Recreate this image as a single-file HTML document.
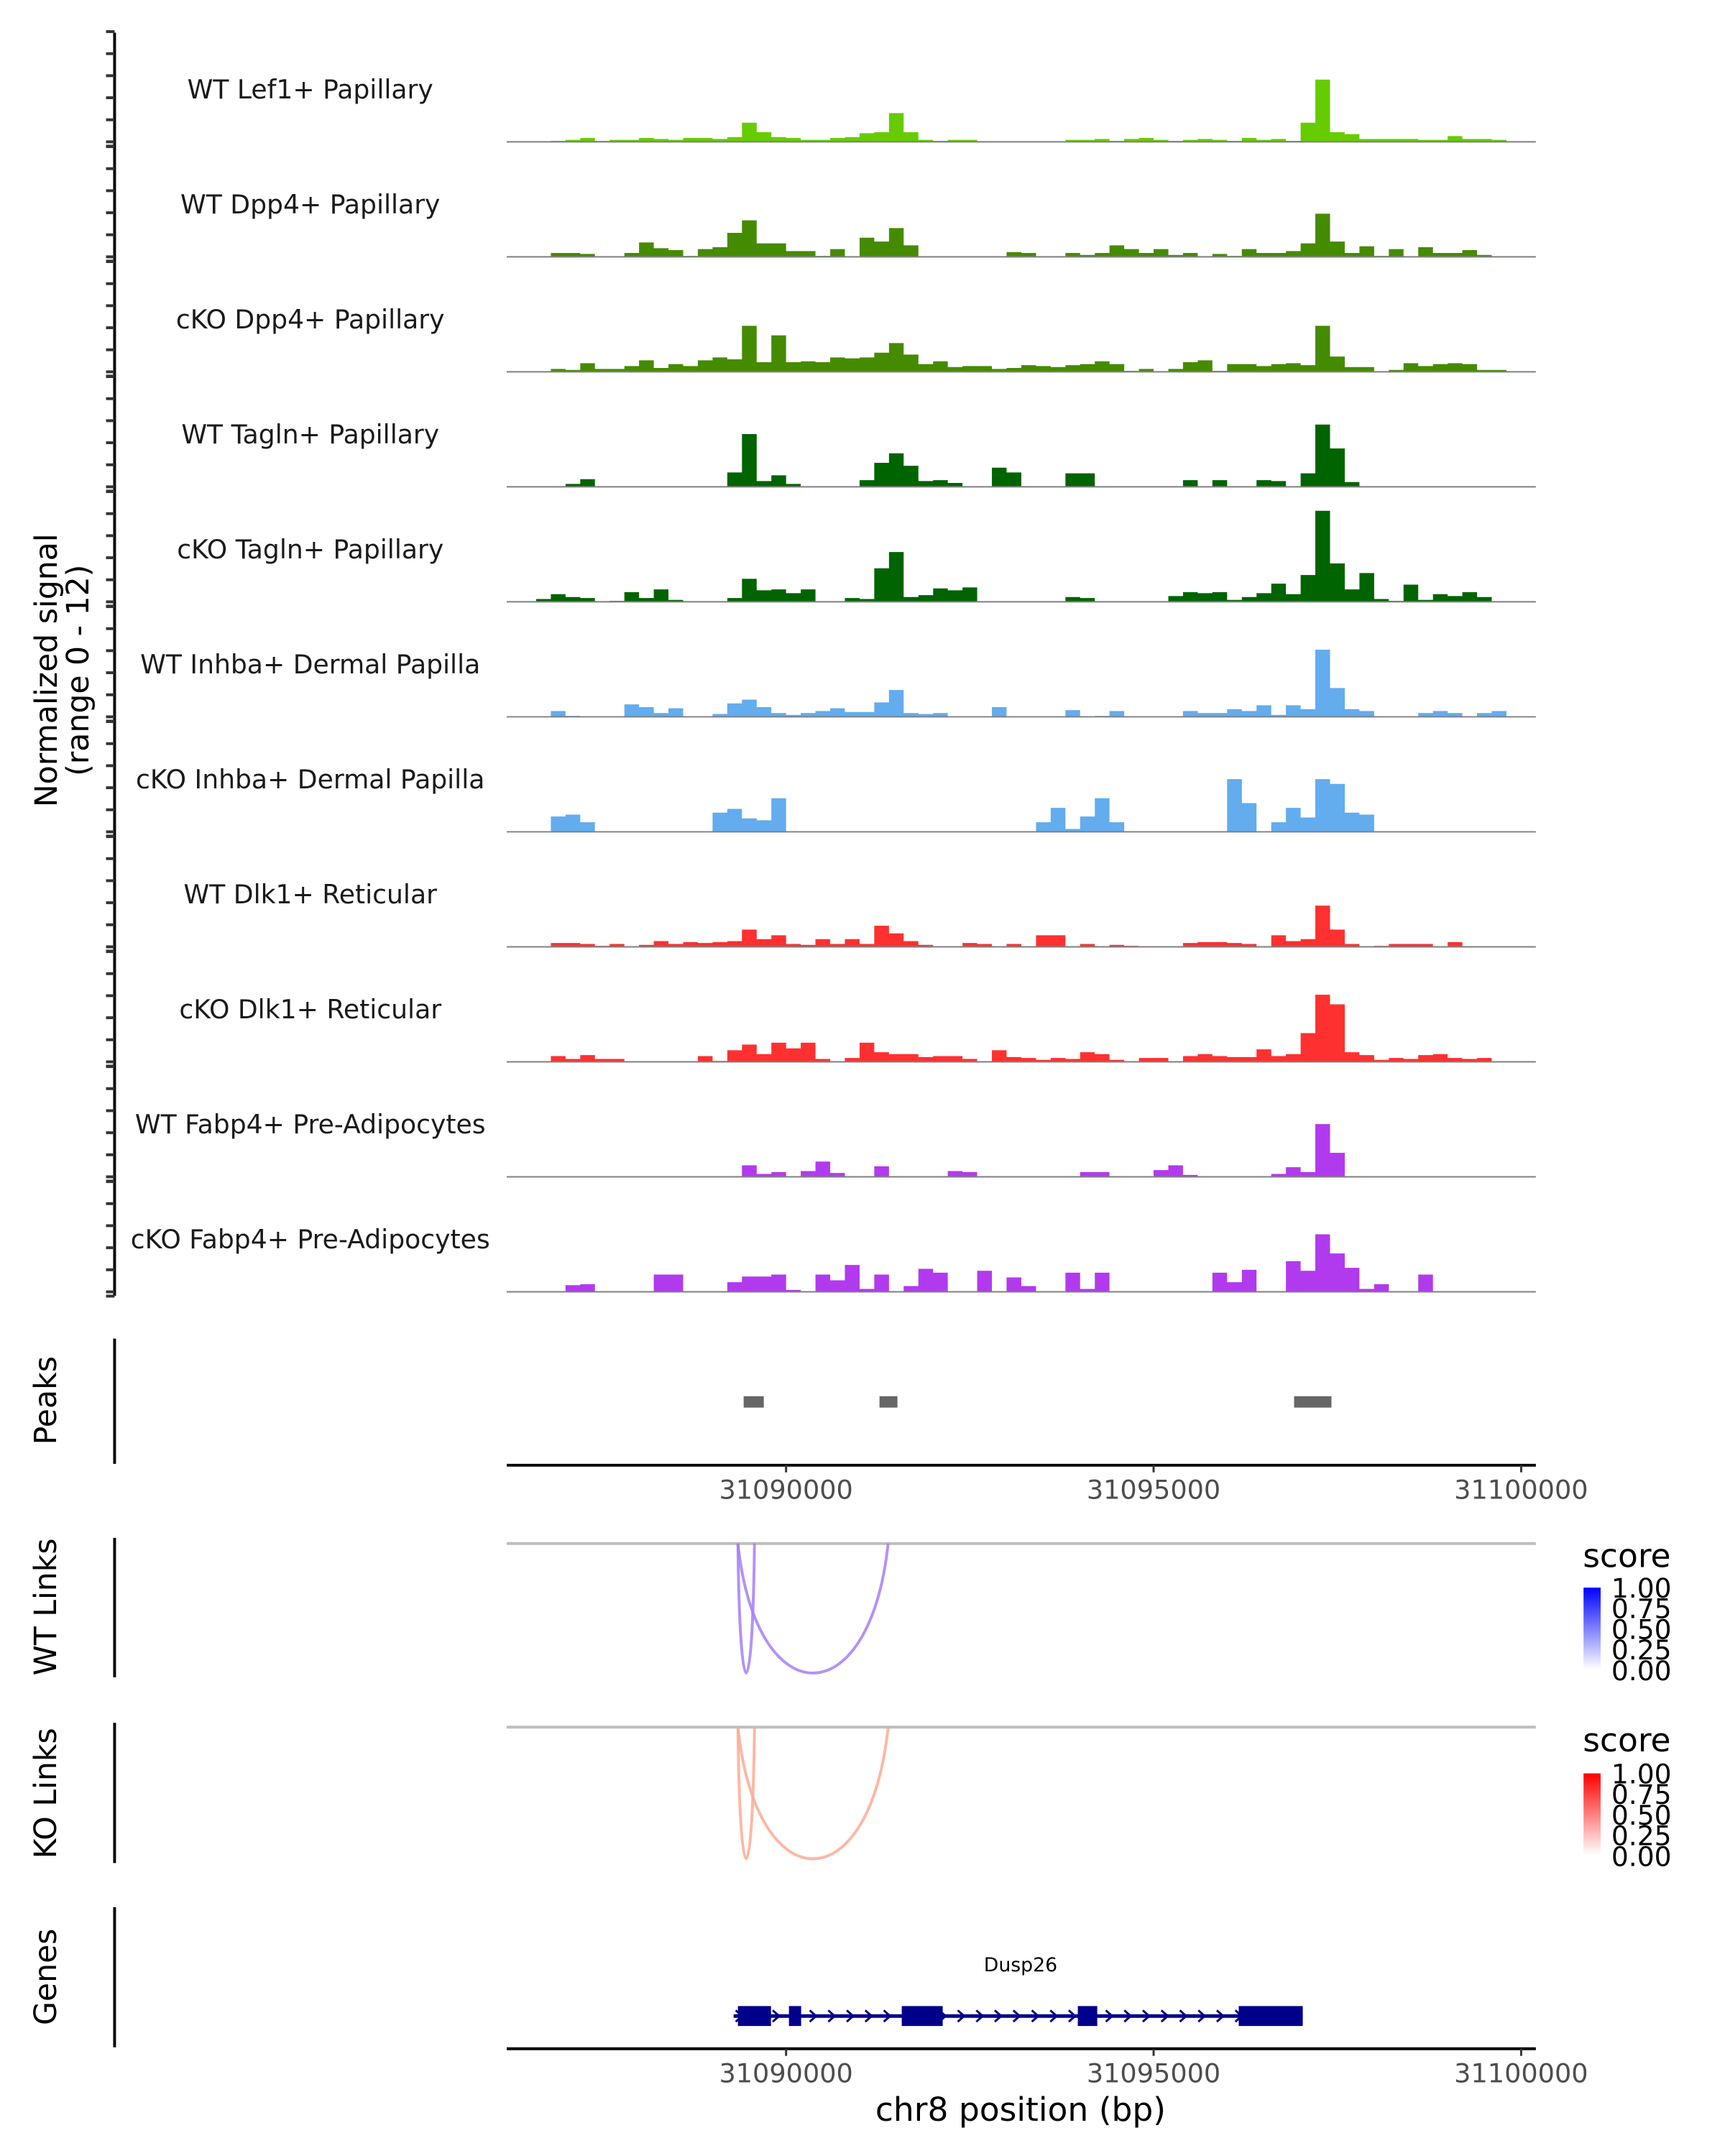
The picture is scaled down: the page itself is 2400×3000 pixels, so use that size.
<!DOCTYPE html>
<html><head><meta charset="utf-8">
<style>
html,body{margin:0;padding:0;background:#fff;}
svg{display:block;font-family:"DejaVu Sans","Liberation Sans",sans-serif;}
</style></head>
<body>
<svg id="chart" width="2400" height="3000" viewBox="0 0 2400 3000" xmlns="http://www.w3.org/2000/svg">
<g transform="scale(0.9902)">
<g id="tracks"></g>
<g id="frame"></g>
</g>
</svg>
<script>
// ---- data ----
const trackNames = ["WT Lef1+ Papillary","WT Dpp4+ Papillary","cKO Dpp4+ Papillary","WT Tagln+ Papillary","cKO Tagln+ Papillary","WT Inhba+ Dermal Papilla","cKO Inhba+ Dermal Papilla","WT Dlk1+ Reticular","cKO Dlk1+ Reticular","WT Fabp4+ Pre-Adipocytes","cKO Fabp4+ Pre-Adipocytes"];
const trackColors = ["#66cc00","#458b00","#458b00","#006400","#006400","#63acee","#63acee","#ff3030","#ff3030","#b23aee","#b23aee"];
const binStart = 31086200;
const binSize = 200;
const lef1WT = [0,0,0,0.1,0.2,0.4,0.1,0.2,0.2,0.4,0.3,0.2,0.4,0.4,0.3,0.5,2.0,1.0,0.5,0.4,0.2,0.2,0.4,0.5,0.9,1.0,3.0,1.0,0.2,0.1,0.2,0.2,0,0,0,0,0,0,0.2,0.2,0.3,0.1,0.3,0.4,0.2,0.1,0.2,0.3,0.2,0.1,0.4,0.2,0.3,0.1,2.0,6.5,1.0,0.8,0.3,0.3,0.3,0.3,0.2,0.2,0.6,0.3,0.3,0.2,0,0];
const dpp4WT = [0,0,0,0.4,0.4,0.3,0,0,0.4,1.5,0.9,0.7,0.1,0.8,1.0,2.5,3.8,1.4,1.4,0.6,0.6,0.1,0.8,0,2.0,1.6,3.0,1.2,0,0,0,0,0,0,0.5,0.4,0,0,0.4,0.2,0.4,1.2,0.8,0.4,0.8,0.2,0.4,0,0.3,0.1,0.8,0.4,0.4,0.6,1.4,4.5,1.6,0.4,1.1,0.1,0.8,0,1.0,0.4,0.4,0.7,0.2,0,0,0];
const dpp4KO = [0,0,0,0.3,0.2,0.9,0.3,0.3,0.6,1.2,0.4,0.8,0.6,1.2,1.5,1.3,4.8,1.0,3.8,1.0,1.1,1.0,1.5,1.4,1.5,2.0,3.0,1.8,0.8,1.1,0.5,0.6,0.6,0.3,0.4,0.7,0.6,0.5,0.7,0.8,1.1,0.8,0.1,0.3,0,0.3,1.0,1.2,0.1,0.8,0.8,0.6,0.8,0.9,0.7,4.8,1.6,0.5,0.5,0,0.2,0.9,0.6,0.8,0.9,0.8,0.2,0.2,0,0];
const taglnWT = [0,0,0,0,0.3,0.8,0,0,0,0,0,0,0,0,0,1.5,5.5,0.6,1.2,0.3,0,0,0,0,0.7,2.5,3.5,2.2,0.6,0.7,0.4,0,0,2.0,1.5,0,0,0,1.4,1.4,0,0,0,0,0,0,0.7,0,0.7,0,0,0.7,0.6,0,1.4,6.5,4.0,0.5,0,0,0,0,0,0,0,0,0,0,0,0];
const taglnKO = [0,0,0.3,0.8,0.5,0.4,0,0.1,1.0,0.4,1.3,0.2,0,0,0,0.4,2.4,1.2,1.3,0.9,1.3,0,0,0.4,0.3,3.5,5.2,0.5,0.7,1.4,1.2,1.5,0,0,0,0,0,0,0.5,0.4,0,0,0,0,0,0.6,1.0,0.9,1.0,0.2,0.5,0.9,1.9,0.8,2.8,9.5,4.0,1.3,3.0,0.3,0.1,1.8,0.2,0.8,0.6,1.0,0.5,0,0,0];
const inhbaWT = [0,0,0,0.6,0.1,0,0,0,1.3,1.0,0.4,0.9,0,0,0.3,1.4,1.8,1.0,0.4,0.2,0.4,0.6,0.9,0.5,0.5,1.5,2.8,0.4,0.3,0.4,0,0,0,1.0,0,0,0,0,0.7,0,0.1,0.6,0,0,0,0,0.6,0.4,0.4,0.8,0.6,1.2,0.2,1.2,0.8,7.0,3.0,0.8,0.6,0,0,0,0.4,0.6,0.4,0,0.4,0.6,0,0];
const inhbaKO = [0,0,0,1.6,1.8,1.0,0,0,0,0,0,0,0,0,2.0,2.4,1.4,1.2,3.5,0,0,0,0,0,0,0,0,0,0,0,0,0,0,0,0,0,1.0,2.5,0.3,1.6,3.5,1.0,0,0,0,0,0,0,0,5.5,3.0,0,1.0,2.5,1.5,5.5,5.0,2.0,1.8,0,0,0,0,0,0,0,0,0,0,0];
const dlk1WT = [0,0,0,0.4,0.4,0.3,0.1,0.3,0,0.2,0.6,0.3,0.5,0.4,0.5,0.6,1.8,0.8,1.2,0.3,0.2,0.8,0.3,0.8,0.3,2.2,1.4,0.6,0.2,0,0,0.4,0.3,0,0.3,0,1.2,1.2,0,0.3,0,0.2,0.1,0,0,0,0.4,0.5,0.5,0.4,0.3,0,1.2,0.6,0.8,4.3,1.8,0.3,0,0.1,0.3,0.3,0.3,0,0.5,0,0,0,0,0];
const dlk1KO = [0,0,0,0.6,0.3,0.7,0.3,0.3,0,0,0,0,0,0.6,0.1,1.2,1.8,0.8,2.0,1.4,2.0,0.3,0,0.4,2.0,1.0,0.8,0.8,0.5,0.6,0.6,0.3,0,1.2,0.5,0.4,0.2,0.4,0.3,1.0,0.8,0.2,0,0.4,0.4,0,0.6,0.8,0.6,0.5,0.5,1.3,0.6,0.8,3.0,7.0,6.0,1.0,0.7,0.2,0.4,0.3,0.7,0.8,0.4,0.3,0.4,0,0,0];
const fabp4WT = [0,0,0,0,0,0,0,0,0,0,0,0,0,0,0,0,1.2,0.3,0.5,0,0.6,1.6,0.4,0,0,1.1,0,0,0,0,0.6,0.5,0,0,0,0,0,0,0,0.5,0.5,0,0,0,0.7,1.2,0.2,0,0,0,0,0,0.3,1.0,0.5,5.5,2.5,0,0,0,0,0,0,0,0,0,0,0,0,0];
const fabp4KO = [0,0,0,0,0.7,0.8,0,0,0,0,1.8,1.8,0,0,0,1.0,1.6,1.6,1.8,0.2,0,1.8,1.2,2.8,0.3,1.8,0,0.6,2.4,2.0,0,0,2.2,0,1.5,0.6,0,0,2.0,0.3,2.0,0,0,0,0,0,0,0,2.0,1.0,2.3,0,0,3.2,2.2,6.0,4.0,2.5,0.3,0.8,0,0,1.8,0,0,0,0,0,0,0];
const trackValues = [lef1WT,dpp4WT,dpp4KO,taglnWT,taglnKO,inhbaWT,inhbaKO,dlk1WT,dlk1KO,fabp4WT,fabp4KO];
const peakStarts = [31089423, 31091271, 31096911];
const peakEnds = [31089697, 31091515, 31097419];
const linkStarts = [31089345, 31089345];
const linkEnds = [31089570, 31091388];
const wtLinkScores = [0.35, 0.35];
const koLinkScores = [0.35, 0.35];
const exonStarts = [31089345, 31090039, 31091574, 31093969, 31096158];
const exonEnds = [31089795, 31090205, 31092131, 31094233, 31097029];
const geneStart = 31089286;
const geneEnd = 31097029;
const xTicks = [31090000, 31095000, 31100000];
const yTickValues = [-0.45, 0, 2.3, 4.6, 6.9, 9.2, 11.5];
const legendTicks = ["1.00","0.75","0.50","0.25","0.00"];

// ---- scales ----
const X0 = 712, X1 = 2158, BP0 = 31086200, BP1 = 31100200;
function xs(bp){ return X0 + (bp - BP0) / (BP1 - BP0) * (X1 - X0); }
const trackH = 161.6, base0 = 199.3, yMax = 12;
function ys(k, v){ return base0 + k*trackH - v / yMax * trackH; }

const NS = "http://www.w3.org/2000/svg";
function mk(tag, attrs, parent){
  const el = document.createElementNS(NS, tag);
  for (const k in attrs) el.setAttribute(k, attrs[k]);
  parent.appendChild(el);
  return el;
}
const gT = document.getElementById('tracks');
const gF = document.getElementById('frame');

// coverage tracks
trackValues.forEach((vals, k) => {
  const base = base0 + k*trackH;
  let d = "M" + xs(binStart) + "," + base;
  vals.forEach((v, i) => {
    const xa = xs(binStart + i*binSize), xb = xs(binStart + (i+1)*binSize);
    const y = ys(k, v);
    d += " L" + xa.toFixed(1) + "," + y.toFixed(1) + " L" + xb.toFixed(1) + "," + y.toFixed(1);
  });
  d += " L" + xs(binStart + vals.length*binSize) + "," + base + " Z";
  const area = mk('path', {d: d, fill: trackColors[k]}, gT);
  
  
  const bl = mk('line', {x1: X0, x2: X1, y1: base, y2: base, stroke: '#7f7f7f', 'stroke-width': 2}, gT);
  
  
  const lab = mk('text', {x: 436, y: base - 61, 'text-anchor': 'middle', 'font-size': 36.5, fill: '#1a1a1a'}, gT);
  lab.textContent = trackNames[k];
  
  
});

// left axes
function vline(y1, y2, name){
  const l = mk('line', {x1: 161, x2: 161, y1: y1, y2: y2, stroke: '#000', 'stroke-width': 4}, gF);
  
  
}
vline(46, 1821, 'signal-y-axis');
for (let k = 0; k < trackValues.length; k++) {
  yTickValues.forEach(v => {
    const y = ys(k, v);
    if (y < 44 || y > 1822) return;
    const t = mk('line', {x1: 149, x2: 161, y1: y, y2: y, stroke: '#333', 'stroke-width': 4}, gF);
    
    
  });
}
vline(1881, 2057, 'peaks-y-axis');
vline(2161, 2357, 'wt-links-y-axis');
vline(2421, 2618, 'ko-links-y-axis');
vline(2680, 2877, 'genes-y-axis');

function rotText(x, y, txt, size, name){
  const t = mk('text', {x: x, y: y, transform: 'rotate(-90 ' + x + ' ' + y + ')', 'text-anchor': 'middle', 'font-size': size, fill: '#000'}, gF);
  t.textContent = txt;
  
  
}
rotText(80, 942, 'Normalized signal', 43, 'y-axis-title');
rotText(124, 942, '(range 0 - 12)', 43, 'y-axis-range');
rotText(79, 1968, 'Peaks', 43, 'peaks-label');
rotText(79, 2258, 'WT Links', 43, 'wt-links-label');
rotText(79, 2520, 'KO Links', 43, 'ko-links-label');
rotText(79, 2778, 'Genes', 43, 'genes-label');

// peaks
peakStarts.forEach((s, i) => {
  const r = mk('rect', {x: xs(s), y: 1962, width: xs(peakEnds[i]) - xs(s), height: 16, fill: '#666666'}, gF);
  
  
});

// x axes
function xAxis(y, name){
  const l = mk('line', {x1: X0, x2: X1, y1: y, y2: y, stroke: '#000', 'stroke-width': 4}, gF);
  
  
  xTicks.forEach(t => {
    const tl = mk('line', {x1: xs(t), x2: xs(t), y1: y, y2: y + 10, stroke: '#333', 'stroke-width': 3}, gF);
    
    
    const tx = mk('text', {x: xs(t), y: y + 47, 'text-anchor': 'middle', 'font-size': 37, fill: '#4d4d4d'}, gF);
    tx.textContent = t;
    
    
  });
}
xAxis(2059, 'peaks-x-axis');
xAxis(2879, 'genes-x-axis');
const xt = mk('text', {x: 1434, y: 2980, 'text-anchor': 'middle', 'font-size': 46, fill: '#000'}, gF);
xt.textContent = 'chr8 position (bp)';



// links
function links(top, bottom, scores, color, name){
  const g1 = mk('line', {x1: X0, x2: X1, y1: top, y2: top, stroke: '#bebebe', 'stroke-width': 4}, gF);
  
  
  linkStarts.forEach((s, i) => {
    const a = xs(s), b = xs(linkEnds[i]);
    const D = top + (bottom - top) / 0.75;
    const p = mk('path', {d: 'M' + a + ',' + top + ' C' + (a + (b - a) * 0.12) + ',' + D + ' ' + (b - (b - a) * 0.12) + ',' + D + ' ' + b + ',' + top, fill: 'none', stroke: color, 'stroke-width': 4, 'stroke-opacity': 0.5 + scores[i]}, gF);
    
    
  });
}
links(2169, 2351, wtLinkScores, '#a67ff7', 'wt-link');
links(2427, 2612, koLinkScores, '#fcab94', 'ko-link');

// legends
function legend(ty, barTop, col, id, name){
  const defs = mk('defs', {}, gF);
  const lg = mk('linearGradient', {id: id, x1: 0, y1: 1, x2: 0, y2: 0}, defs);
  mk('stop', {offset: 0, 'stop-color': '#ffffff'}, lg);
  mk('stop', {offset: 1, 'stop-color': col}, lg);
  const t = mk('text', {x: 2224, y: ty, 'font-size': 46, fill: '#000'}, gF);
  t.textContent = 'score';
  
  
  const r = mk('rect', {x: 2225, y: barTop, width: 24, height: 115, fill: 'url(#' + id + ')'}, gF);
  
  
  legendTicks.forEach((lbl, i) => {
    const y = barTop + i * 29;
    const tx = mk('text', {x: 2264, y: y + 14, 'font-size': 38, fill: '#000'}, gF);
    tx.textContent = lbl;
    
    
  });
}
legend(2202, 2231, '#0000ff', 'gradWT', 'wt-score-legend');
legend(2461, 2492, '#ff0000', 'gradKO', 'ko-score-legend');

// gene
const gy = 2833;
const gl = mk('line', {x1: xs(geneStart), x2: xs(geneEnd), y1: gy, y2: gy, stroke: '#00008b', 'stroke-width': 5}, gF);


for (let x = xs(geneStart) + 8; x < xs(geneEnd); x += 26) {
  const c = mk('path', {d: 'M' + (x - 5) + ',' + (gy - 8) + ' L' + (x + 4) + ',' + gy + ' L' + (x - 5) + ',' + (gy + 8), fill: 'none', stroke: '#00008b', 'stroke-width': 3}, gF);
  
  
}
exonStarts.forEach((s, i) => {
  const r = mk('rect', {x: xs(s), y: 2819, width: xs(exonEnds[i]) - xs(s), height: 28, fill: '#00008b'}, gF);
  
  
});
const gn = mk('text', {x: 1434, y: 2770, 'text-anchor': 'middle', 'font-size': 27, fill: '#000'}, gF);
gn.textContent = 'Dusp26';


</script>
</body></html>
